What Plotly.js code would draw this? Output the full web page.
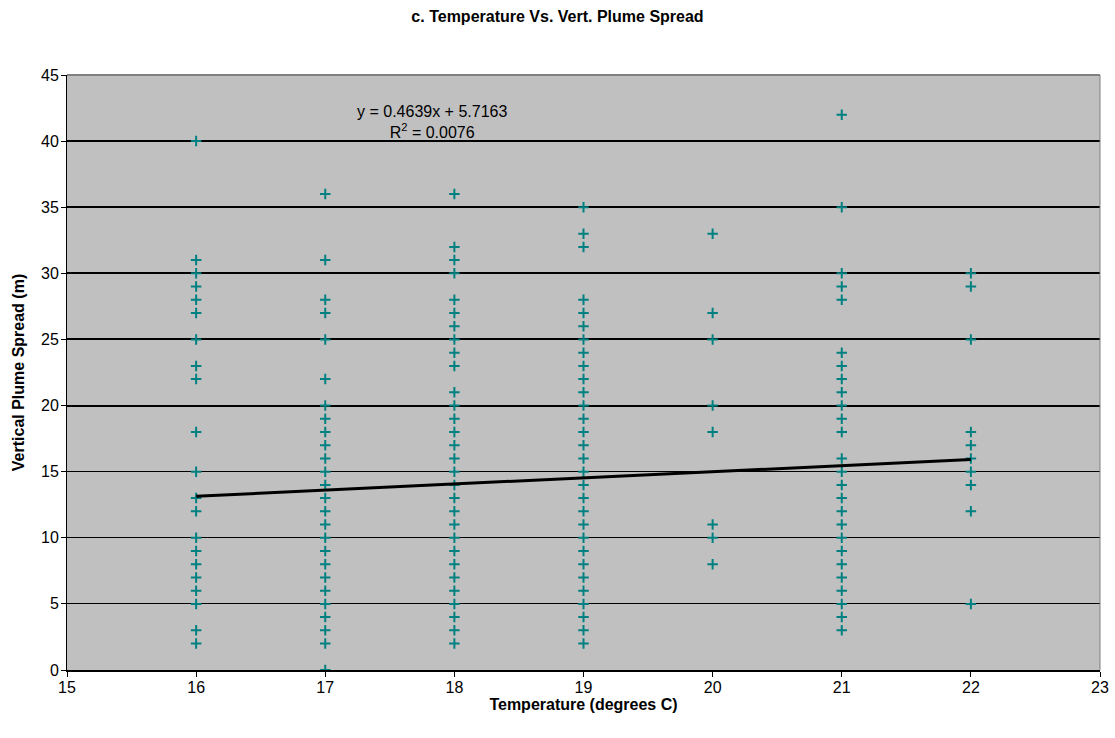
<!DOCTYPE html>
<html>
<head>
<meta charset="utf-8">
<script src="https://cdn.plot.ly/plotly-3.0.1.min.js"></script>
<style>
html,body{margin:0;padding:0;background:#fff;}
#chart{width:1115px;height:738px;}
</style>
</head>
<body>
<div id="chart"></div>
<script>
// Observed data: vertical plume spread (m) at each temperature (deg C)
const temp16 = [40, 31, 30, 29, 28, 27, 25, 23, 22, 18, 15, 13, 12, 10, 9, 8, 7, 6, 5, 3, 2];
const temp17 = [36, 31, 28, 27, 25, 22, 20, 19, 18, 17, 16, 15, 14, 13, 12, 11, 10, 9, 8, 7, 6, 5, 4, 3, 2, 0];
const temp18 = [36, 32, 31, 30, 28, 27, 26, 25, 24, 23, 21, 20, 19, 18, 17, 16, 15, 14, 13, 12, 11, 10, 9, 8, 7, 6, 5, 4, 3, 2];
const temp19 = [35, 33, 32, 28, 27, 26, 25, 24, 23, 22, 21, 20, 19, 18, 17, 16, 15, 14, 13, 12, 11, 10, 9, 8, 7, 6, 5, 4, 3, 2];
const temp20 = [33, 27, 25, 20, 18, 11, 10, 8];
const temp21 = [42, 35, 30, 29, 28, 24, 23, 22, 21, 20, 19, 18, 16, 15, 14, 13, 12, 11, 10, 9, 8, 7, 6, 5, 4, 3];
const temp22 = [30, 29, 25, 18, 17, 16, 15, 14, 12, 5];
const temperatures = [16, 17, 18, 19, 20, 21, 22];
const seriesByTemp = [temp16, temp17, temp18, temp19, temp20, temp21, temp22];

// Linear trendline as shown on the chart
const slope = 0.4639;
const intercept = 5.7163;
const rSquared = 0.0076;
const trendX = [16, 22];

const xTicks = [15, 16, 17, 18, 19, 20, 21, 22, 23];
const yTicks = [0, 5, 10, 15, 20, 25, 30, 35, 40, 45];

const xs = [], ys = [];
seriesByTemp.forEach((arr, i) => arr.forEach(v => { xs.push(temperatures[i]); ys.push(v); }));

const trendY = trendX.map(x => slope * x + intercept);

const FAM = 'Liberation Sans, Arial, sans-serif';
const font = {family: FAM, size: 16, color: '#000'};

const data = [
  {
    x: xs, y: ys, type: 'scatter', mode: 'markers',
    marker: {symbol: 'cross-thin', size: 7.5, color: '#008080', line: {color: '#008080', width: 2}},
    hoverinfo: 'x+y', showlegend: false
  },
  {
    x: trendX, y: trendY, type: 'scatter', mode: 'lines',
    line: {color: '#000', width: 3}, showlegend: false, hoverinfo: 'skip'
  },
  {
    x: [15], y: [0], yaxis: 'y2', type: 'scatter', mode: 'markers',
    marker: {opacity: 0}, showlegend: false, hoverinfo: 'skip'
  }
];

const layout = {
  width: 1115, height: 738,
  margin: {l: 67, r: 15, t: 75, b: 68},
  paper_bgcolor: '#fff',
  plot_bgcolor: '#C0C0C0',
  font: font,
  title: {text: '<b>c. Temperature Vs. Vert. Plume Spread</b>', font: {family: FAM, size: 16, color: '#000'}, x: 0.5, xanchor: 'center', y: 0.978, yanchor: 'middle'},
  xaxis: {
    range: [15, 23], tickvals: xTicks, ticktext: xTicks.map(String),
    showgrid: false, zeroline: false,
    showline: true, linecolor: '#000', linewidth: 2,
    ticks: 'outside', ticklen: 5, tickwidth: 1, tickcolor: '#000',
    ticklabelstandoff: -3,
    tickfont: font,
    title: {text: '<b>Temperature (degrees C)</b>', font: font, standoff: 0}
  },
  yaxis: {
    range: [0, 45], tickvals: yTicks, ticktext: yTicks.map(String),
    showgrid: true, gridcolor: '#000', gridwidth: 1, zeroline: false,
    showline: true, linecolor: '#000', linewidth: 1,
    ticks: 'outside', ticklen: 5, tickwidth: 1, tickcolor: '#000',
    ticklabelstandoff: -1,
    tickfont: font,
    title: {text: '<b>Vertical Plume Spread (m)</b>', font: font, standoff: 12}
  },
  yaxis2: {
    overlaying: 'y', range: [0, 45], tickvals: [20, 25, 30, 35, 40],
    showgrid: true, gridcolor: '#000', gridwidth: 2, showticklabels: false,
    ticks: '', zeroline: false, showline: false
  },
  shapes: [
    {type: 'line', xref: 'paper', yref: 'paper', x0: 0, x1: 1, y0: 1, y1: 1, line: {color: '#808080', width: 2}},
    {type: 'line', xref: 'paper', yref: 'paper', x0: 1, x1: 1, y0: 0, y1: 1, line: {color: '#808080', width: 1}}
  ],
  annotations: [
    {
      xref: 'x', yref: 'y', x: 17.83, y: 41.45,
      text: 'y = ' + slope + 'x + ' + intercept + '<br>R<sup>2</sup> = ' + rSquared,
      showarrow: false, font: font, align: 'center', xanchor: 'center', yanchor: 'middle'
    }
  ]
};

Plotly.newPlot('chart', data, layout, {displayModeBar: false, staticPlot: true});
</script>
</body>
</html>
